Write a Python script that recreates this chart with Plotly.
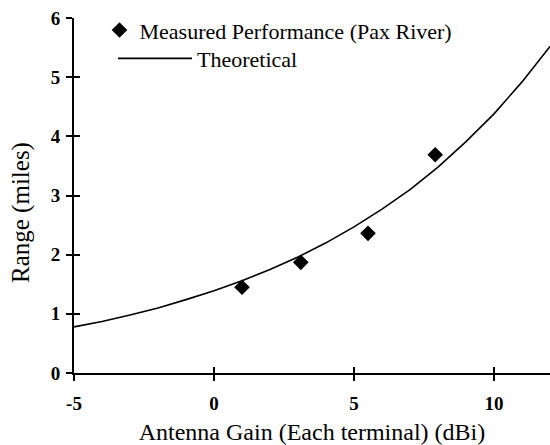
import plotly.graph_objects as go

# Measured performance (Pax River)
meas_gain = [1.0, 3.1, 5.5, 7.9]
meas_range = [1.45, 1.87, 2.36, 3.69]

# Theoretical curve
theo_gain = [-5, -4, -3, -2, -1, 0, 1, 2, 3, 4, 5, 6, 7, 8, 9, 10, 11, 12]
theo_range = [0.78, 0.87, 0.98, 1.10, 1.24, 1.39, 1.56, 1.75, 1.96, 2.20,
              2.47, 2.77, 3.10, 3.48, 3.91, 4.38, 4.92, 5.52]

x_ticks = [-5, 0, 5, 10]
x_labels = ["-5", "0", "5", "10"]
y_ticks = [0, 1, 2, 3, 4, 5, 6]
y_labels = ["0", "1", "2", "3", "4", "5", "6"]

FONT = "Liberation Serif"

L, T, R, B = 74, 18, 0, 72
W, H = 550, 445
PW, PH = W - L - R, H - T - B


def px(xp):
    return (xp - L) / PW


def py(yp):
    return (H - B - yp) / PH


fig = go.Figure()
fig.add_trace(go.Scatter(
    x=meas_gain, y=meas_range, mode="markers",
    name="Measured Performance (Pax River)",
    marker=dict(symbol="diamond", size=12, color="black"),
    legend="legend", showlegend=True,
))
fig.add_trace(go.Scatter(
    x=theo_gain, y=theo_range, mode="lines",
    name="Theoretical",
    line=dict(color="black", width=1.6),
    legend="legend2", showlegend=True,
))
# invisible trace to anchor the overlay axes (inner half of cross ticks)
fig.add_trace(go.Scatter(x=[-5], y=[0], xaxis="x2", yaxis="y2", mode="markers",
                         marker=dict(opacity=0), showlegend=False, hoverinfo="skip"))

axis_common = dict(showgrid=False, zeroline=False, showline=True, linecolor="black",
                   linewidth=2, tickcolor="black", tickwidth=1.5, ticklen=6)

fig.update_layout(
    template="none",
    width=W, height=H,
    margin=dict(l=L, r=R, t=T, b=B),
    paper_bgcolor="white", plot_bgcolor="white",
    font=dict(family=FONT, color="black", size=20),
    showlegend=True,
    xaxis=dict(range=[-5, 12], tickvals=x_ticks,
               ticktext=["<b>%s</b>" % s for s in x_labels], ticks="outside",
               tickfont=dict(family=FONT, size=19, color="black"),
               ticklabelstandoff=6,
               title=dict(text="Antenna Gain (Each terminal) (dBi)",
                          font=dict(family=FONT, size=24, color="black"), standoff=11),
               **axis_common),
    yaxis=dict(range=[0, 6], tickvals=y_ticks,
               ticktext=["<b>%s</b>" % s for s in y_labels], ticks="outside",
               tickfont=dict(family=FONT, size=19, color="black"),
               ticklabelstandoff=2,
               **axis_common),
    xaxis2=dict(range=[-5, 12], tickvals=x_ticks, ticks="inside", overlaying="x",
                showticklabels=False, anchor="y2", showline=False,
                showgrid=False, zeroline=False, tickcolor="black", tickwidth=1.5, ticklen=6),
    yaxis2=dict(range=[0, 6], tickvals=y_ticks, ticks="inside", overlaying="y",
                showticklabels=False, anchor="x2", showline=False,
                showgrid=False, zeroline=False, tickcolor="black", tickwidth=1.5, ticklen=6),
    legend=dict(x=px(99.5), y=1.025, xanchor="left", yanchor="top",
                font=dict(family=FONT, size=22, color="black"), bgcolor="rgba(0,0,0,0)",
                borderwidth=0, itemwidth=30),
    legend2=dict(x=px(113), y=0.945, xanchor="left", yanchor="top",
                 font=dict(family=FONT, size=22, color="black"), bgcolor="rgba(0,0,0,0)",
                 borderwidth=0, itemwidth=74),
    annotations=[dict(text="Range (miles)", textangle=-90, showarrow=False,
                      xref="paper", yref="paper", x=px(21), y=py(213),
                      xanchor="center", yanchor="middle",
                      font=dict(family=FONT, size=25, color="black"))],
)

fig.write_html("out.html")
